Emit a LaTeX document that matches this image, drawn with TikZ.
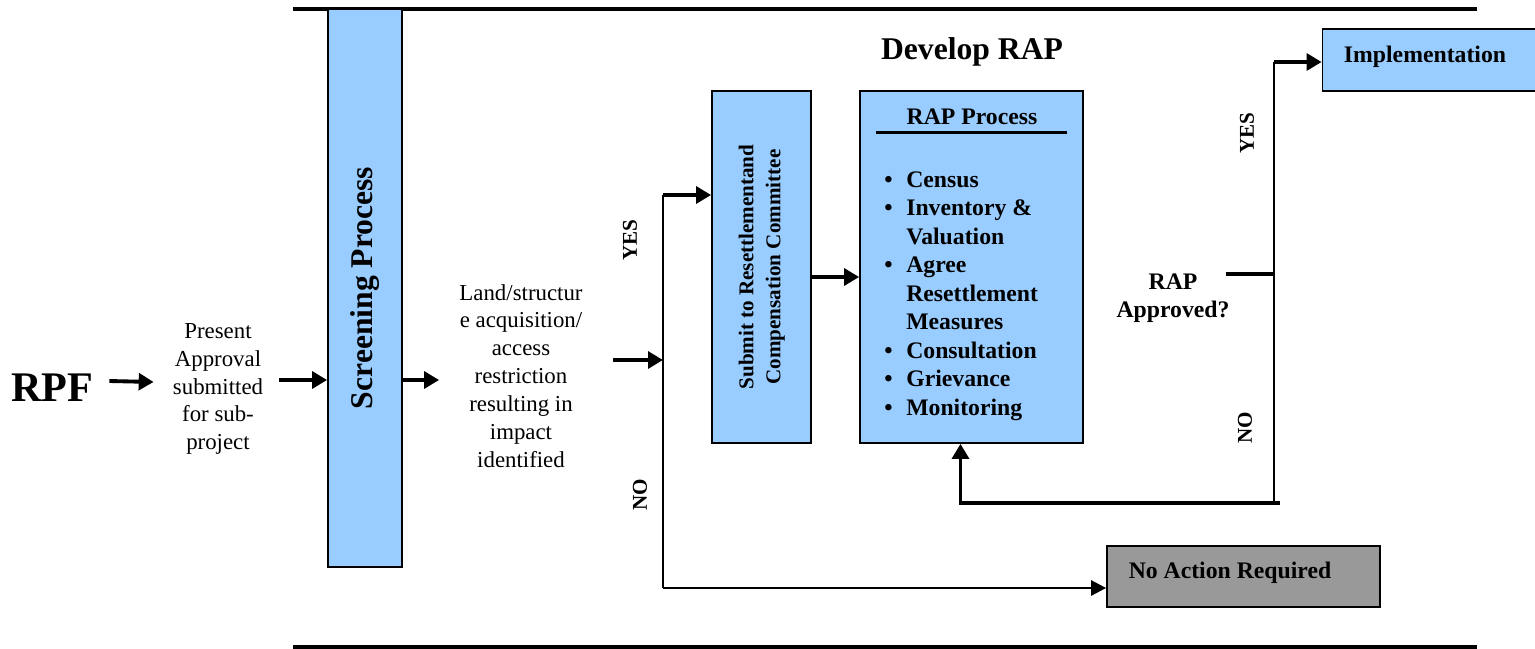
\documentclass[tikz,border=0pt]{standalone}
\usepackage{fontspec}
\setmainfont{Liberation Serif}
\usetikzlibrary{arrows.meta}
\definecolor{boxblue}{HTML}{99CCFF}
\definecolor{boxgrey}{HTML}{999999}

\begin{document}
\begin{tikzpicture}[x=0.02cm,y=-0.02cm,
  bluebox/.style={draw,line width=1pt,fill=boxblue,inner sep=0pt},
  greybox/.style={draw,line width=1pt,fill=boxgrey,inner sep=0pt},
  txt/.style={inner sep=0pt,align=center,font=\fontsize{13}{15.9}\selectfont},
  btxt/.style={inner sep=0pt,align=center,font=\fontsize{13.5}{15.9}\selectfont\bfseries},
  yn/.style={inner sep=0pt,rotate=90,font=\fontsize{12}{14}\selectfont\bfseries},
  arr/.style={line width=2.2pt,-{Triangle[length=8.5pt,width=9.5pt]}},
  thinarr/.style={line width=1.4pt,-{Triangle[length=8.5pt,width=8.5pt]}},
  conn/.style={line width=1.5pt},
  thickconn/.style={line width=2.2pt}]
\useasboundingbox (0,0) rectangle (1535,649);
\draw[line width=2.5pt] (293,9) -- (1477,9);
\draw[line width=2pt] (293,647) -- (1477,647);
\node[inner sep=0pt,font=\fontsize{24}{28}\selectfont\bfseries] (rpf) at (52,388) {RPF};
\node[txt] (pres) at (218,389) {Present\\Approval\\submitted\\for sub-\\project};
\node[bluebox,minimum width=1.48cm,minimum height=11.16cm] (screen) at (365,288)
  {\rotatebox{90}{\fontsize{18}{20}\selectfont\bfseries Screening Process}};
\node[txt] (land) at (521,376) {Land/structur\\e acquisition/\\access\\restriction\\resulting in\\impact\\identified};
\node[bluebox,minimum width=1.98cm,minimum height=7.04cm] (sub) at (761.5,267)
  {\rotatebox{90}{\fontsize{12}{15.3}\selectfont\bfseries
   \begin{tabular}{@{}c@{}}Submit to Resettlementand\\Compensation Committee\end{tabular}}};
\node[inner sep=0pt,font=\fontsize{18}{20}\selectfont\bfseries] (dev) at (972,52) {Develop RAP};
\node[bluebox,minimum width=4.46cm,minimum height=7.04cm] (rap) at (971.5,267) {};
\node[btxt] (rapT) at (972,117) {RAP Process};
\draw[line width=1.8pt] ([shift={(17,42)}]rap.north west) -- ([shift={(-17,42)}]rap.north east);
\node[anchor=west,inner sep=0pt,align=left,font=\fontsize{13.5}{16.2}\selectfont\bfseries] (rapL) at (884,296)
  {\makebox[12.5pt][l]{\textbullet}Census\\
   \makebox[12.5pt][l]{\textbullet}Inventory \&\\
   \hspace*{12.5pt}Valuation\\
   \makebox[12.5pt][l]{\textbullet}Agree\\
   \hspace*{12.5pt}Resettlement\\
   \hspace*{12.5pt}Measures\\
   \makebox[12.5pt][l]{\textbullet}Consultation\\
   \makebox[12.5pt][l]{\textbullet}Grievance\\
   \makebox[12.5pt][l]{\textbullet}Monitoring};
\node[btxt] (appr) at (1173,298) {RAP\\Approved?};
\node[bluebox,minimum width=4.3cm,minimum height=1.24cm] (impl) at (1430,60) {};
\node[btxt] (implT) at (1425,57) {Implementation};
\node[greybox,minimum width=5.46cm,minimum height=1.22cm] (noact) at (1243.5,576.5) {};
\node[btxt] (noactT) at (1230,573) {No Action Required};
\node[yn] (yes1) at (630,240) {YES};
\node[yn] (no1) at (640,495) {NO};
\node[yn] (yes2) at (1247,133) {YES};
\node[yn] (no2) at (1245,428) {NO};
\coordinate (p1) at ([shift={(16,-9)}]pres.east);
\coordinate (p2) at ([shift={(-20,4)}]land.west);
\coordinate (p3) at ([shift={(30,-16)}]land.east);
\coordinate (p4) at ([shift={(-4,-24)}]appr.east);
\coordinate (yesS) at (663,195);
\coordinate (noS) at (663,588);
\coordinate (yesR) at (1274,62);
\coordinate (noR) at (1274,505);
\draw[arr] ([shift={(16,-7)}]rpf.east) -- ([shift={(-19,-7)}]pres.west);
\draw[arr] (p1) -- (p1 -| screen.west);
\draw[arr] (p2 -| screen.east) -- (p2);
\draw[arr] (p3) -- (p3 -| yesS);
\draw[conn] (yesS) -- (noS);
\draw[arr] (yesS) -- (yesS -| sub.west);
\draw[thinarr] (noS) -- (noS -| noact.west);
\draw[arr] ([shift={(0,10)}]sub.east) -- ([shift={(0,10)}]rap.west);
\draw[thickconn] (p4) -- (p4 -| yesR);
\draw[conn] (yesR) -- (noR);
\draw[arr] (yesR) -- (yesR -| impl.west);
\draw[arr] ([shift={(6,-2)}]noR) -| ([shift={(-11,0)}]rap.south);
\end{tikzpicture}
\end{document}
